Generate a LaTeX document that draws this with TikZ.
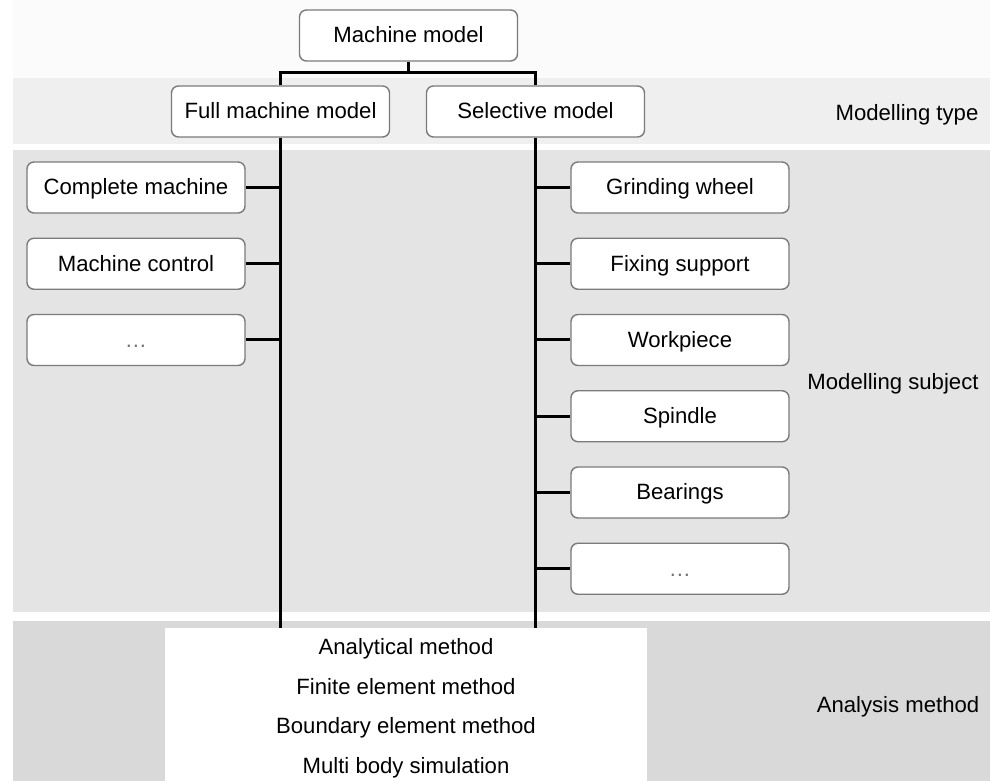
\documentclass[tikz,border=0pt]{standalone}
\usepackage{fontspec}
\setmainfont{Liberation Sans}
\usepackage{xcolor}

\begin{document}
\begin{tikzpicture}[font=\fontsize{12.6}{15}\selectfont, text height=2.1ex, text depth=0.5ex]

\definecolor{band1}{HTML}{FBFBFB}
\definecolor{band2}{HTML}{EFEFEF}
\definecolor{band3}{HTML}{E4E4E4}
\definecolor{band4}{HTML}{D9D9D9}
\definecolor{frame}{HTML}{7A7A7A}

\tikzset{
  block/.style={rectangle, rounded corners=1.4mm, fill=white, draw=frame, line width=0.8pt, minimum width=4.36cm, minimum height=1.02cm},
  conn/.style={line width=1.7pt, black},
  dotsgray/.style={text=black!55}
}

\useasboundingbox (0,0) rectangle (19.8,15.62);

%bands
\fill[band1] (0.26,14.06) rectangle (19.8,15.62);
\fill[band2] (0.26,12.74) rectangle (19.8,14.06);
\fill[band3] (0.26,3.38) rectangle (19.8,12.62);
\fill[band4] (0.26,0) rectangle (19.8,3.2);

%type
\node[block] (mm) at (8.17,14.91) {Machine model};
\node[block] (full) at (5.61,13.39) {Full machine model};
\node[block] (sel) at (10.71,13.39) {Selective model};
\coordinate (bus) at (8.17,14.16);
\draw[conn] (mm) -- (bus);
\draw[conn] (full.north) |- (bus) -| (sel.north);

%methods
\node[fill=white, minimum width=9.64cm, minimum height=3.06cm, inner sep=0] (am) at (8.12,1.53) {};
\foreach \y/\txt [count=\i] in {2.68/Analytical method, 1.88/Finite element method, 1.10/Boundary element method, 0.30/Multi body simulation}
  \node (am\i) at (8.12,\y) {\txt};

\draw[conn] (full) -- (full |- am.north);
\draw[conn] (sel) -- (sel |- am.north);

%full machine
\node[block] (l1) at (2.72,11.87) {Complete machine};
\node[block] (l2) at (2.72,10.345) {Machine control};
\node[block, dotsgray] (l3) at (2.72,8.82) {\dots};
\foreach \n in {l1,l2,l3}
  \draw[conn] (\n.east) -- (\n.east -| full);

%selective
\foreach \txt [count=\i] in {Grinding wheel, Fixing support, Workpiece, Spindle, Bearings} {
  \node[block] (r\i) at (13.6,{11.87-1.525*(\i-1)}) {\txt};
  \draw[conn] (r\i.west) -- (r\i.west -| sel);
}
\node[block, dotsgray] (r6) at (13.6,4.245) {\dots};
\draw[conn] (r6.west) -- (r6.west -| sel);

%band names
\node (mtype) at (18.14,13.36) {Modelling type};
\node (msubj) at (17.86,7.98) {Modelling subject};
\node (ameth) at (17.96,1.52) {Analysis method};
\end{tikzpicture}
\end{document}
